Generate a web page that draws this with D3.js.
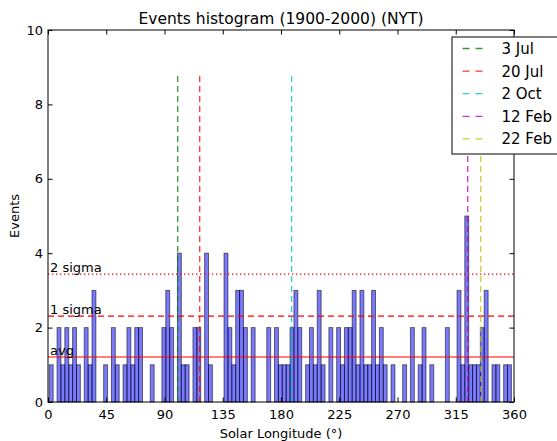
<!DOCTYPE html>
<html>
<head>
<meta charset="utf-8">
<script src="https://cdn.jsdelivr.net/npm/d3@7"></script>
<style>
  body { margin: 0; background: #fff; }
  text { font-family: "DejaVu Sans", sans-serif; fill: #000; }
</style>
</head>
<body>
<div id="chart"></div>
<script>
// histogram bins: 3 degree wide, first edge at 1 degree
var binStart = 1, binWidth = 3;
var counts = [
  1, 0, 2, 1, 2, 1, 2, 1, 0, 2, 1, 3,
  0, 0, 1, 0, 2, 1, 0, 1, 2, 1, 2, 2,
  0, 0, 1, 0, 0, 2, 3, 2, 0, 4, 1, 1,
  0, 2, 2, 0, 4, 1, 0, 0, 0, 4, 2, 1,
  3, 3, 2, 0, 2, 0, 0, 0, 2, 0, 2, 1,
  1, 1, 2, 3, 2, 0, 1, 2, 1, 3, 1, 0,
  2, 0, 2, 1, 2, 2, 3, 1, 3, 1, 1, 3,
  1, 2, 1, 0, 1, 0, 0, 1, 0, 2, 0, 1,
  2, 0, 1, 0, 0, 0, 2, 0, 0, 3, 1, 5,
  1, 1, 1, 2, 3, 0, 1, 1, 0, 1, 1
];

var eventNames = ["3 Jul", "20 Jul", "2 Oct", "12 Feb", "22 Feb"];
var eventLongitudes = [100.2, 117.2, 188.2, 324.2, 334.3];
var eventTop = 8.85;

var levelNames = ["avg", "1 sigma", "2 sigma"];
var levelValues = [1.21, 2.31, 3.44];

var xTicks = [0, 45, 90, 135, 180, 225, 270, 315, 360];
var yTicks = [0, 2, 4, 6, 8, 10];

var eventColors = ["#008000", "#ff0000", "#00bfbf", "#bf00bf", "#bfbf00"];
var levelDash = ["none", "6,4", "1.3,2.7"];

function renderHistogram() {
    var width = 557, height = 441;
    var left = 48, right = 514, top = 30, bottom = 402;

    var svg = d3.select("#chart")
        .append("svg")
        .attr("width", width)
        .attr("height", height);

    var x = d3.scaleLinear().domain([0, 360]).range([left, right]);
    var y = d3.scaleLinear().domain([0, 10]).range([bottom, top]);

    var bins = counts
        .map(function (c, i) { return { x0: binStart + i * binWidth, count: c }; })
        .filter(function (d) { return d.count > 0; });

    svg.selectAll(".bar")
        .data(bins)
        .enter()
        .append("rect")
        .attr("class", "bar")
        .attr("x", function (d) { return x(d.x0); })
        .attr("width", x(binWidth) - x(0))
        .attr("y", function (d) { return y(d.count); })
        .attr("height", function (d) { return y(0) - y(d.count); })
        .attr("fill", "blue")
        .attr("fill-opacity", 0.52)
        .attr("stroke", "black")
        .attr("stroke-opacity", 0.55)
        .attr("stroke-width", 1);

    // avg / sigma lines
    levelValues.forEach(function (v, i) {
        svg.append("line")
            .attr("x1", x(0)).attr("x2", x(360))
            .attr("y1", y(v)).attr("y2", y(v))
            .attr("stroke", "#ff0000")
            .attr("stroke-width", 1.2)
            .attr("stroke-dasharray", levelDash[i]);
        svg.append("text")
            .attr("x", x(0) + 2)
            .attr("y", y(v) - 2)
            .style("font-size", "13px")
            .text(levelNames[i]);
    });

    // event lines
    eventLongitudes.forEach(function (lon, i) {
        svg.append("line")
            .attr("x1", x(lon)).attr("x2", x(lon))
            .attr("y1", y(0)).attr("y2", y(eventTop))
            .attr("stroke", eventColors[i])
            .attr("stroke-opacity", 0.8)
            .attr("stroke-width", 1.3)
            .attr("stroke-dasharray", "6,4");
    });

    // axes, ticks pointing inward on all four sides
    var tick = 4.5;
    svg.append("g")
        .attr("transform", "translate(0," + bottom + ")")
        .call(d3.axisBottom(x).tickValues(xTicks).tickSizeInner(-tick).tickSizeOuter(0).tickPadding(6))
        .call(function (g) { g.select(".domain").remove(); })
        .selectAll("text").style("font-size", "13px").attr("dy", "0.85em");
    svg.append("g")
        .attr("transform", "translate(0," + top + ")")
        .call(d3.axisTop(x).tickValues(xTicks).tickSizeInner(-tick).tickSizeOuter(0).tickFormat(""))
        .call(function (g) { g.select(".domain").remove(); });
    svg.append("g")
        .attr("transform", "translate(" + left + ",0)")
        .call(d3.axisLeft(y).tickValues(yTicks).tickSizeInner(-tick).tickSizeOuter(0).tickPadding(5))
        .call(function (g) { g.select(".domain").remove(); })
        .selectAll("text").style("font-size", "13px");
    svg.append("g")
        .attr("transform", "translate(" + right + ",0)")
        .call(d3.axisRight(y).tickValues(yTicks).tickSizeInner(-tick).tickSizeOuter(0).tickFormat(""))
        .call(function (g) { g.select(".domain").remove(); });

    svg.append("rect")
        .attr("x", left).attr("y", top)
        .attr("width", right - left).attr("height", bottom - top)
        .attr("fill", "none")
        .attr("stroke", "black")
        .attr("stroke-width", 1);

    svg.append("text")
        .attr("x", (left + right) / 2)
        .attr("y", 23.5)
        .attr("text-anchor", "middle")
        .style("font-size", "15.5px")
        .text("Events histogram (1900-2000) (NYT)");

    svg.append("text")
        .attr("x", (left + right) / 2)
        .attr("y", 438)
        .attr("text-anchor", "middle")
        .style("font-size", "13px")
        .text("Solar Longitude (\u00b0)");

    svg.append("text")
        .attr("transform", "translate(19," + ((top + bottom) / 2) + ")rotate(-90)")
        .attr("text-anchor", "middle")
        .style("font-size", "13px")
        .text("Events");

    // legend, runs off the right edge like the original
    var lg = svg.append("g").attr("transform", "translate(452,37)");
    lg.append("rect")
        .attr("width", 130).attr("height", 117)
        .attr("fill", "white")
        .attr("stroke", "black")
        .attr("stroke-width", 1);
    eventNames.forEach(function (name, i) {
        var ry = 11.5 + i * 22.6;
        lg.append("line")
            .attr("x1", 10.5).attr("x2", 30.5)
            .attr("y1", ry).attr("y2", ry)
            .attr("stroke", eventColors[i])
            .attr("stroke-opacity", 0.8)
            .attr("stroke-width", 1.3)
            .attr("stroke-dasharray", "7,6");
        lg.append("text")
            .attr("x", 49.5)
            .attr("y", ry)
            .attr("dy", "0.36em")
            .style("font-size", "15px")
            .text(name);
    });
}

renderHistogram();
</script>
</body>
</html>
